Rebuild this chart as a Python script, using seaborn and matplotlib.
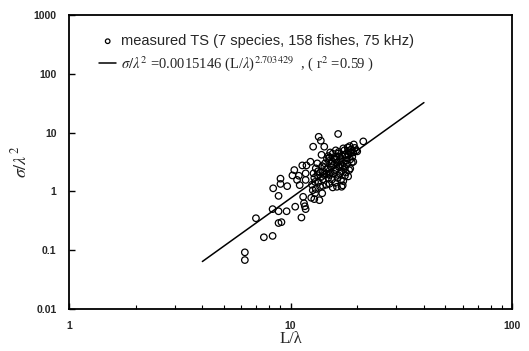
import matplotlib
matplotlib.use("Agg")
import matplotlib.pyplot as plt
import seaborn as sns
import pandas as pd
from matplotlib.ticker import LogLocator, FixedLocator, NullFormatter

# measured points (L/lambda, sigma/lambda^2)
L_over_lambda = [6.22, 6.22, 6.98, 7.58, 8.30, 8.35, 8.30, 8.83, 8.83, 9.01,
                 9.01, 8.83, 9.10, 9.66, 9.60, 10.2, 10.4, 10.5, 10.7, 10.9,
                 11.0, 11.3, 11.4, 11.2, 11.5, 11.6, 11.7, 11.7, 11.7, 11.8,
                 12.3, 12.65, 12.7, 12.8, 12.6, 12.4, 12.8, 12.9, 13.0, 13.2,
                 13.4, 13.7, 13.8, 14.2, 13.5, 13.9, 14.0, 13.4, 13.7, 13.6,
                 14.2, 14.5, 14.8, 15.0, 15.5, 15.3, 15.0, 15.5, 16.4, 16.1,
                 16.5, 16.7, 16.4, 16.2, 17.2, 16.9, 17.3, 17.7, 17.8, 18.2,
                 18.5, 17.6, 18.2, 18.6, 18.9, 19.2, 19.3, 21.3, 20.0,
                 14.0, 14.3, 14.6, 14.9, 15.2, 15.6, 15.8, 16.0, 16.2, 16.6,
                 16.8, 17.0, 17.1, 17.4, 17.6, 17.9, 18.0, 18.3, 18.6, 18.8,
                 19.0, 19.5, 15.0, 15.4, 15.9, 16.3, 16.7, 17.3, 17.8, 14.5,
                 14.0, 13.6, 13.2, 12.9, 13.9, 14.8, 15.5, 16.4, 17.5, 18.1,
                 19.8, 16.9, 15.3, 14.2, 13.0, 12.5, 17.0, 18.4, 19.2, 15.7,
                 16.5, 14.6, 15.1, 16.0, 17.2, 18.7, 13.3, 14.9, 16.1, 17.6]
sigma_over_lambda2 = [0.092, 0.068, 0.35, 0.166, 0.175, 1.13, 0.50, 0.84, 0.46, 1.65,
                      1.34, 0.29, 0.30, 1.23, 0.46, 1.87, 2.31, 0.55, 1.57, 1.85,
                      1.28, 2.77, 0.81, 0.36, 0.63, 0.56, 0.50, 2.03, 1.57, 2.77,
                      3.2, 5.77, 2.03, 1.7, 1.05, 0.78, 0.74, 0.93, 2.47, 3.0,
                      8.5, 7.3, 4.2, 5.77, 0.71, 0.93, 1.24, 1.45, 1.75, 2.1,
                      2.6, 2.0, 1.7, 1.35, 1.17, 3.0, 3.8, 4.4, 9.5, 3.9,
                      4.7, 2.6, 1.9, 1.2, 1.27, 1.57, 5.4, 4.3, 3.4, 4.9,
                      5.9, 1.85, 1.8, 2.45, 3.1, 4.6, 6.3, 7.1, 4.8,
                      2.2, 3.0, 2.4, 3.3, 2.1, 2.8, 3.6, 2.3, 3.1, 3.9,
                      2.9, 2.2, 4.1, 3.0, 2.5, 3.8, 2.9, 4.2, 3.5, 5.2,
                      3.9, 5.5, 1.9, 1.6, 1.4, 1.7, 2.0, 1.5, 2.1, 1.3,
                      1.6, 1.2, 1.9, 1.45, 2.7, 4.0, 3.2, 4.4, 5.0, 5.6,
                      5.0, 3.4, 2.6, 1.9, 1.1, 1.3, 1.2, 2.3, 3.2, 2.0,
                      2.6, 3.6, 4.6, 5.0, 2.7, 4.5, 2.2, 2.0, 3.5, 4.2]

# regression line end points: sigma/lambda^2 = 0.0015146 (L/lambda)^2.703429
fit_L = [4.0, 40.0]
fit_sigma = [0.0642, 32.46]

x_ticks = [1, 10, 100]
x_tick_labels = ["1", "10", "100"]
y_ticks = [0.01, 0.1, 1, 10, 100, 1000]
y_tick_labels = ["0.01", "0.1", "1", "10", "100", "1000"]

legend_scatter = "measured TS (7 species, 158 fishes, 75 kHz)"
legend_line = r"$\sigma/\lambda^2$ =0.0015146 (L/$\lambda$)$^{2.703429}$  , ( r$^2$ =0.59 )"

sns.set_style("white")
plt.rcParams["mathtext.fontset"] = "stix"
plt.rcParams["font.family"] = ["Liberation Sans", "DejaVu Sans"]

fig = plt.figure(figsize=(5.29, 3.51), dpi=100)
ax = fig.add_axes([0.1304, 0.1197, 0.968 - 0.1304, 0.957 - 0.1197])

pts = pd.DataFrame({"x": L_over_lambda, "y": sigma_over_lambda2})
fit = pd.DataFrame({"x": fit_L, "y": fit_sigma})

sns.scatterplot(data=pts, x="x", y="y", ax=ax, marker="o", s=22,
                facecolor="none", edgecolor="black", linewidth=0.9,
                label=legend_scatter, zorder=3)
sns.lineplot(data=fit, x="x", y="y", ax=ax, color="black", linewidth=1.1,
             label=legend_line, zorder=2)

ax.set_xscale("log")
ax.set_yscale("log")
ax.set_xlim(1, 100)
ax.set_ylim(0.01, 1000)

ax.xaxis.set_major_locator(FixedLocator(x_ticks))
ax.set_xticklabels(x_tick_labels)
ax.yaxis.set_major_locator(FixedLocator(y_ticks))
ax.set_yticklabels(y_tick_labels)
ax.xaxis.set_minor_locator(LogLocator(base=10, subs=range(2, 10)))
ax.xaxis.set_minor_formatter(NullFormatter())
ax.yaxis.set_minor_locator(FixedLocator([]))

ax.tick_params(axis="both", which="both", direction="in", color="black",
               bottom=True, left=True, top=False, right=False)
ax.tick_params(axis="both", which="major", length=4, width=1, labelsize=7.5)
ax.tick_params(axis="x", which="major", pad=9)
ax.tick_params(axis="y", which="major", pad=9)
ax.tick_params(axis="x", which="minor", length=3, width=0.8)
for lab in ax.get_xticklabels() + ax.get_yticklabels():
    lab.set_fontweight("bold")

for sp in ax.spines.values():
    sp.set_color("black")
    sp.set_linewidth(1.3)

ax.set_xlabel("L/λ", family=["Liberation Serif", "DejaVu Serif"], fontsize=12, labelpad=0)
ax.set_ylabel(r"$\sigma/\lambda^2$", fontsize=13, labelpad=2)

leg = ax.legend(loc="upper left", bbox_to_anchor=(0.056, 0.955), frameon=False,
                handlelength=1.2, handletextpad=0.35, borderaxespad=0,
                labelspacing=0.45, fontsize=10, markerscale=0.7)
texts = leg.get_texts()
texts[0].set_fontsize(10.5)
texts[1].set_family(["Liberation Serif", "DejaVu Serif"])
texts[1].set_fontsize(10.5)

fig.savefig("out.png", dpi=100)
